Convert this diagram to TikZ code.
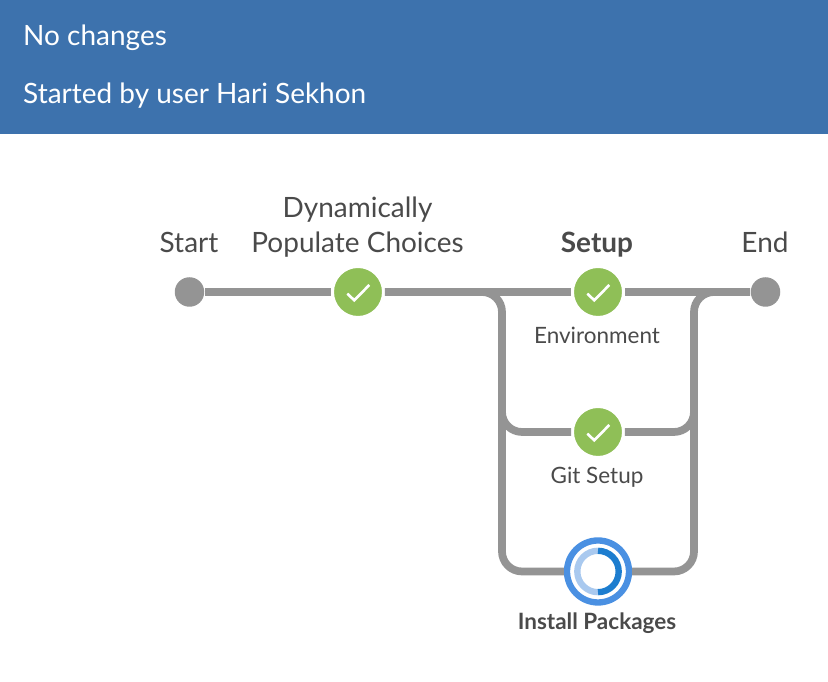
\documentclass[tikz,border=0pt]{standalone}
\usepackage{fontspec}
\setmainfont{Lato}
\usepackage{xcolor}
\definecolor{banner}{HTML}{3D72AD}
\definecolor{pipe}{HTML}{949494}
\definecolor{okgreen}{HTML}{8FBF57}
\definecolor{runblue}{HTML}{4A90E2}
\definecolor{rundark}{HTML}{1D7DCF}
\definecolor{runlight}{HTML}{A9C9EF}
\definecolor{ink}{HTML}{4A4A4A}
\tikzset{
    pipeline/.style={draw=pipe, line width=2.2pt, rounded corners=0.2cm},
    endpoint/.style={circle, fill=pipe, inner sep=0pt, minimum size=0.295cm},
    okstage/.style={circle, fill=okgreen, draw=white, line width=0.85pt, inner sep=0pt, minimum size=0.51cm},
    runstage/.style={circle, fill=white, draw=runblue, line width=1.8pt, inner sep=0pt, minimum size=0.62cm},
    bigtext/.style={text=ink, font=\fontsize{7.96}{9.96}\selectfont, align=center},
    smalltext/.style={text=ink, font=\fontsize{6.4}{8}\selectfont, align=center},
    headtext/.style={text=white, anchor=west, inner sep=0pt, font=\fontsize{7.96}{9.96}\selectfont},
    tick/.style={draw=white, line width=0.75pt}
}
\begin{document}
\begin{tikzpicture}
    \useasboundingbox (0,0) rectangle (8.28,6.82);

    % banner
    \fill[banner] (0,5.48) rectangle (8.28,6.82);
    \node[headtext] (nochanges) at (0.225,6.44) {No changes};
    \node[headtext] (startedby) at (0.225,5.865) {Started by user Hari Sekhon};

    % stages
    \node[endpoint] (start) at (1.895,3.90) {};
    \node[okstage] (choices) at (3.58,3.90) {};
    \node[okstage] (environment) at (5.98,3.90) {};
    \node[okstage] (gitsetup) at (5.98,2.50) {};
    \node[runstage] (install) at (5.98,1.105) {};
    \node[endpoint] (finish) at (7.655,3.90) {};

    % joints
    \coordinate (lefttop) at (5.02,3.90);
    \coordinate (leftmid) at (5.02,3.30);
    \coordinate (leftgit) at (5.02,2.50);
    \coordinate (leftlow) at (5.02,1.105);
    \coordinate (righttop) at (6.94,3.90);
    \coordinate (rightmid) at (6.94,3.30);
    \coordinate (rightgit) at (6.94,2.50);
    \coordinate (rightlow) at (6.94,1.105);

    % connectors
    \draw[pipeline] (start) -- (choices);
    \draw[pipeline] (choices) -- (environment);
    \draw[pipeline] (environment) -- (finish);
    \draw[pipeline] (choices) -- (lefttop) -- (leftlow) -- (install);
    \draw[pipeline] (leftmid) -- (leftgit) -- (gitsetup);
    \draw[pipeline] (finish) -- (righttop) -- (rightlow) -- (install);
    \draw[pipeline] (rightmid) -- (rightgit) -- (gitsetup);

    % ticks
    \draw[tick] ([shift={(-0.107,-0.017)}]choices.center) -- ++(0.07,-0.066) -- ++(0.15,0.153);
    \draw[tick] ([shift={(-0.107,-0.017)}]environment.center) -- ++(0.07,-0.066) -- ++(0.15,0.153);
    \draw[tick] ([shift={(-0.107,-0.017)}]gitsetup.center) -- ++(0.07,-0.066) -- ++(0.15,0.153);

    % running ring
    \draw[runlight, line width=1.8pt] (5.98,0.898) arc (-90:-270:0.207);
    \draw[rundark, line width=1.8pt] (5.98,1.312) arc (90:-90:0.207);

    % labels
    \node[bigtext] (startlabel) at (1.89,4.395) {Start};
    \node[bigtext] (choiceslabel) at (3.575,4.545) {Dynamically\\Populate Choices};
    \node[bigtext] (setuplabel) at (5.97,4.375) {\textbf{Setup}};
    \node[bigtext] (finishlabel) at (7.65,4.395) {End};
    \node[smalltext] (environmentlabel) at (5.97,3.47) {Environment};
    \node[smalltext] (gitlabel) at (5.97,2.05) {Git Setup};
    \node[smalltext] (installlabel) at (5.97,0.59) {\textbf{Install Packages}};
\end{tikzpicture}
\end{document}
